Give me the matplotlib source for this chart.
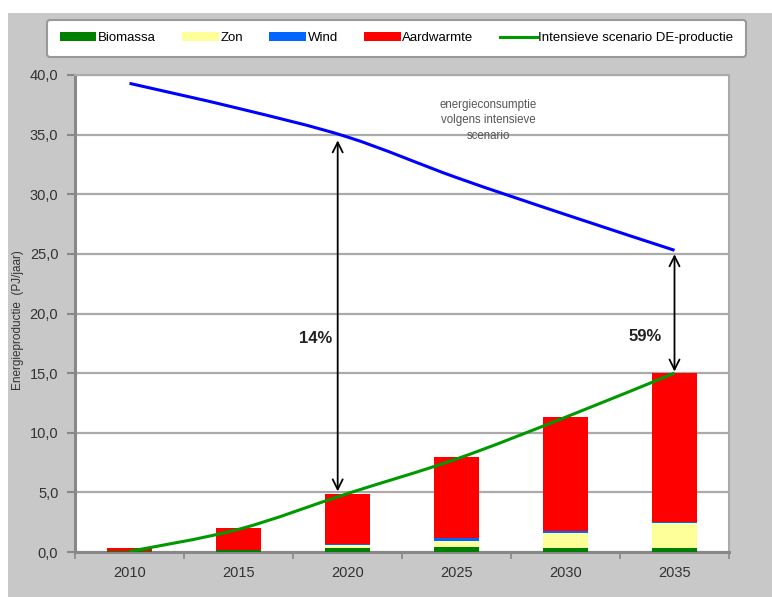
import numpy as np
import matplotlib
matplotlib.use('Agg')
import matplotlib.pyplot as plt
from matplotlib.path import Path
from matplotlib.patches import PathPatch, Rectangle
from matplotlib.lines import Line2D
from matplotlib.ticker import FuncFormatter, FixedLocator

plt.rcParams['font.family'] = ['Liberation Sans', 'DejaVu Sans']

years = ['2010', '2015', '2020', '2025', '2030', '2035']
biomassa = [0.05, 0.15, 0.35, 0.38, 0.35, 0.35]
zon = [0.0, 0.03, 0.22, 0.57, 1.22, 2.08]
wind = [0.0, 0.02, 0.08, 0.20, 0.22, 0.12]
aardwarmte = [0.25, 1.80, 4.25, 6.80, 9.50, 12.45]
de_productie = [0.05, 1.9, 4.9, 7.8, 11.3, 15.0]
consumptie = [39.3, 37.2, 34.8, 31.4, 28.3, 25.3]

colors = {'Biomassa': '#008000', 'Zon': '#ffff99', 'Wind': '#0066ff', 'Aardwarmte': '#ff0000'}


def smooth_path(x, y):
    # Excel-style smoothed line: cubic bezier through the points
    x = np.asarray(x, float)
    y = np.asarray(y, float)
    verts = [(x[0], y[0])]
    codes = [Path.MOVETO]
    n = len(x)
    for i in range(n - 1):
        p0 = (x[max(i - 1, 0)], y[max(i - 1, 0)])
        p1 = (x[i], y[i])
        p2 = (x[i + 1], y[i + 1])
        p3 = (x[min(i + 2, n - 1)], y[min(i + 2, n - 1)])
        c1 = (p1[0] + (p2[0] - p0[0]) / 6, p1[1] + (p2[1] - p0[1]) / 6)
        c2 = (p2[0] - (p3[0] - p1[0]) / 6, p2[1] - (p3[1] - p1[1]) / 6)
        verts += [c1, c2, p2]
        codes += [Path.CURVE4] * 3
    return Path(verts, codes)


fig = plt.figure(figsize=(7.72, 5.97), dpi=100)
fig.patch.set_facecolor('white')
fig.patches.append(Rectangle((8 / 772, 0), 1, (597 - 13) / 597, transform=fig.transFigure,
                             facecolor='#c8c8c8', edgecolor='none', zorder=-10))

ax = fig.add_axes([75 / 772, 45 / 597, 654 / 772, 477 / 597])
ax.set_facecolor('white')

x = np.arange(len(years))
w = 0.42
bottom = np.zeros(len(years))
handles = []
for name, vals in [('Biomassa', biomassa), ('Zon', zon), ('Wind', wind), ('Aardwarmte', aardwarmte)]:
    b = ax.bar(x, vals, w, bottom=bottom, color=colors[name], label=name, zorder=3)
    handles.append(b)
    bottom += np.array(vals)

ax.add_patch(PathPatch(smooth_path(x, consumptie), facecolor='none', edgecolor='#0000ff', lw=2.2, zorder=4))
ax.add_patch(PathPatch(smooth_path(x, de_productie), facecolor='none', edgecolor='#009900', lw=2.2, zorder=4))
handles.append(Line2D([], [], color='#009900', lw=2.2))

# arrows between production and consumption
ax.annotate('', xy=(1.91, 4.85), xytext=(1.91, 34.75),
            arrowprops=dict(arrowstyle='<->', color='black', lw=1.3, mutation_scale=18), zorder=5)
ax.annotate('', xy=(5.0, 14.9), xytext=(5.0, 25.2),
            arrowprops=dict(arrowstyle='<->', color='black', lw=1.3, mutation_scale=18), zorder=5)
ax.text(1.71, 17.9, '14%', fontsize=12, fontweight='bold', color='#222222', ha='center', va='center', zorder=6)
ax.text(4.73, 18.1, '59%', fontsize=12, fontweight='bold', color='#222222', ha='center', va='center', zorder=6)
ax.text(3.29, 36.2, 'energieconsumptie\nvolgens intensieve\nscenario', fontsize=8.3, color='#555555',
        ha='center', va='center', linespacing=1.4, zorder=6)

ax.set_xlim(-0.5, 5.5)
ax.set_ylim(0, 40)
ax.set_yticks(np.arange(0, 40.1, 5))
ax.yaxis.set_major_formatter(FuncFormatter(lambda v, p: f'{v:.1f}'.replace('.', ',')))
ax.set_xticks(x)
ax.set_xticklabels(years)
ax.xaxis.set_minor_locator(FixedLocator(np.arange(-0.5, 5.6, 1)))
ax.tick_params(axis='x', which='major', length=0, pad=10, labelsize=10.5, labelcolor='#333333')
ax.tick_params(axis='x', which='minor', length=5, width=1.2, color='#888888', direction='out')
ax.tick_params(axis='y', length=6, width=1.5, color='#888888', direction='out', labelsize=10.5,
               labelcolor='#333333', pad=6)
ax.grid(axis='y', color='#aaaaaa', lw=1.6, zorder=0)
ax.set_axisbelow(True)
for side in ['left', 'bottom']:
    ax.spines[side].set_color('#888888')
    ax.spines[side].set_linewidth(2.2)
for side in ['top', 'right']:
    ax.spines[side].set_color('#aaaaaa')
    ax.spines[side].set_linewidth(1.5)

fig.text(18 / 772, 1 - 320 / 597, 'Energieproductie  (PJ/jaar)', rotation=90, fontsize=8.5,
         color='#333333', ha='center', va='center')

leg = fig.legend(handles, ['Biomassa', 'Zon', 'Wind', 'Aardwarmte', 'Intensieve scenario DE-productie'],
                 loc='lower left', bbox_to_anchor=(47 / 772, 1 - 57 / 597, 699 / 772, 36 / 597),
                 mode='expand', ncol=5, fontsize=9.5, handlelength=2.8, handleheight=0.65,
                 handletextpad=0.1, borderpad=0.95, borderaxespad=0, fancybox=True, framealpha=1,
                 edgecolor='#999999')
leg.get_frame().set_linewidth(1.5)

fig.savefig('out.png', dpi=100)
